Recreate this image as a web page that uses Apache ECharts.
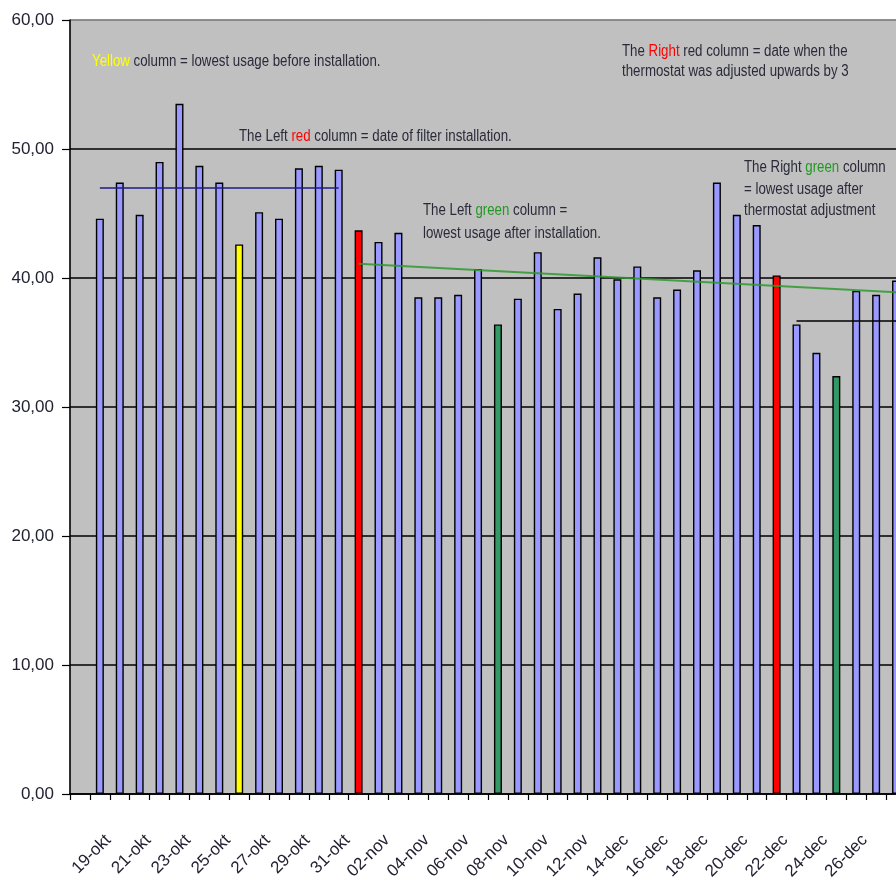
<!DOCTYPE html>
<html><head><meta charset="utf-8">
<script src="https://cdn.jsdelivr.net/npm/echarts@6/dist/echarts.min.js"></script>
<style>html,body{margin:0;padding:0;background:#fff}#c{width:896px;height:883px}</style>
</head><body><div id="c"></div>
<script>
// ---- data ----
const categories = [
  '18-okt','19-okt','20-okt','21-okt','22-okt','23-okt','24-okt','25-okt','26-okt','27-okt',
  '28-okt','29-okt','30-okt','31-okt','01-nov','02-nov','03-nov','04-nov','05-nov','06-nov',
  '07-nov','08-nov','09-nov','10-nov','11-nov','12-nov','13-dec','14-dec','15-dec','16-dec',
  '17-dec','18-dec','19-dec','20-dec','21-dec','22-dec','23-dec','24-dec','25-dec','26-dec',
  '27-dec','28-dec'
];
const usage = [
  null, 44.6, 47.4, 44.9, 49.0, 53.5, 48.7, 47.4, 42.6, 45.1,
  44.6, 48.5, 48.7, 48.4, 43.7, 42.8, 43.5, 38.5, 38.5, 38.7,
  40.7, 36.4, 38.4, 42.0, 37.6, 38.8, 41.6, 39.9, 40.9, 38.5,
  39.1, 40.6, 47.4, 44.9, 44.1, 40.2, 36.4, 34.2, 32.4, 39.0,
  38.7, 39.8
];
const tickLabels = ['19-okt','21-okt','23-okt','25-okt','27-okt','29-okt','31-okt',
  '02-nov','04-nov','06-nov','08-nov','10-nov','12-nov',
  '14-dec','16-dec','18-dec','20-dec','22-dec','24-dec','26-dec'];
const yellowDays = ['26-okt'];
const redDays = ['01-nov', '22-dec'];
const greenDays = ['08-nov', '25-dec'];
const levelBefore = [['19-okt', 47.0], ['31-okt', 47.0]];
const trendAfter = [['01-nov', 41.1], ['28-dec', 38.9]];
const levelAfterAdjust = [['23-dec', 36.7], ['28-dec', 36.7]];
const yTicks = [0, 10, 20, 30, 40, 50, 60];

// ---- chart ----
const TXT = '#2a2a3a';
const f16 = '16px "Liberation Sans", Arial, sans-serif';
const SX = 0.83;
function seg(pair, style) {
  return [{ coord: pair[0], lineStyle: style }, { coord: pair[1] }];
}
const chart = echarts.init(document.getElementById('c'), null, { renderer: 'canvas' });
chart.setOption({
  animation: false,
  backgroundColor: '#ffffff',
  grid: { left: 70, right: -10, top: 20, bottom: 89, containLabel: false, outerBoundsMode: 'none',
    show: true, backgroundColor: '#c0c0c0', borderColor: '#808080', borderWidth: 1 },
  xAxis: {
    type: 'category', data: categories, boundaryGap: true,
    axisLine: { lineStyle: { color: '#000', width: 1.5 } },
    axisTick: { show: true, length: 6, lineStyle: { color: '#000', width: 1.2 }, interval: 0 },
    axisLabel: {
      interval: (i, v) => tickLabels.includes(v),
      hideOverlap: false,
      rotate: 45, margin: 35, lineHeight: 24, verticalAlign: 'top',
      fontFamily: '"Liberation Sans", Arial, sans-serif', fontSize: 17, color: '#222233'
    },
    splitLine: { show: false }
  },
  yAxis: {
    type: 'value', min: yTicks[0], max: yTicks[yTicks.length - 1], interval: 10,
    axisLine: { show: true, lineStyle: { color: '#000', width: 1.5 } },
    axisTick: { show: true, length: 8, lineStyle: { color: '#000', width: 1.2 } },
    axisLabel: {
      margin: 16, fontFamily: '"Liberation Sans", Arial, sans-serif', fontSize: 17, color: '#222233',
      formatter: v => v.toFixed(2).replace('.', ',')
    },
    splitLine: { show: true, lineStyle: { color: ['#000', '#000', '#000', '#000', '#000', '#000', '#808080'], width: 1.5 } }
  },
  series: [{
    type: 'bar', data: usage, barWidth: 8,
    itemStyle: {
      borderColor: '#000', borderWidth: 1.4,
      color: p => yellowDays.includes(p.name) ? '#ffff00'
        : redDays.includes(p.name) ? '#ff0000'
        : greenDays.includes(p.name) ? '#339966' : '#9999ff'
    },
    markLine: {
      silent: true, symbol: 'none', label: { show: false }, animation: false,
      data: [
        seg(levelBefore, { color: '#1c1c8a', width: 1.5, type: 'solid' }),
        seg(trendAfter, { color: '#2e9a2e', width: 2, type: 'solid', opacity: 0.85 }),
        seg(levelAfterAdjust, { color: '#000', width: 1.5, type: 'solid' })
      ]
    }
  }],
  graphic: [
    { type: 'text', x: 92, y: 54, scaleX: SX, z: 10, style: {
      text: '{y|Yellow} column = lowest usage before installation.', font: f16, fill: TXT,
      rich: { y: { fill: '#ffff00', font: f16 } } } },
    { type: 'text', x: 239, y: 129, scaleX: SX, z: 10, style: {
      text: 'The Left {r|red} column = date of filter installation.', font: f16, fill: TXT,
      rich: { r: { fill: '#ff0000', font: f16 } } } },
    { type: 'text', x: 423, y: 199, scaleX: SX, z: 10, style: {
      text: 'The Left {g|green} column =\nlowest usage after installation.', font: f16, fill: TXT, lineHeight: 23,
      rich: { g: { fill: '#229922', font: f16, lineHeight: 23 } } } },
    { type: 'text', x: 622, y: 42, scaleX: SX, z: 10, style: {
      text: 'The {r|Right} red column = date when the\nthermostat was adjusted upwards by 3', font: f16, fill: TXT, lineHeight: 20,
      rich: { r: { fill: '#ff0000', font: f16, lineHeight: 20 } } } },
    { type: 'text', x: 744, y: 157, scaleX: SX, z: 10, style: {
      text: 'The Right {g|green} column\n= lowest usage after\nthermostat adjustment', font: f16, fill: TXT, lineHeight: 21.5,
      rich: { g: { fill: '#229922', font: f16, lineHeight: 21.5 } } } }
  ]
});
</script></body></html>
